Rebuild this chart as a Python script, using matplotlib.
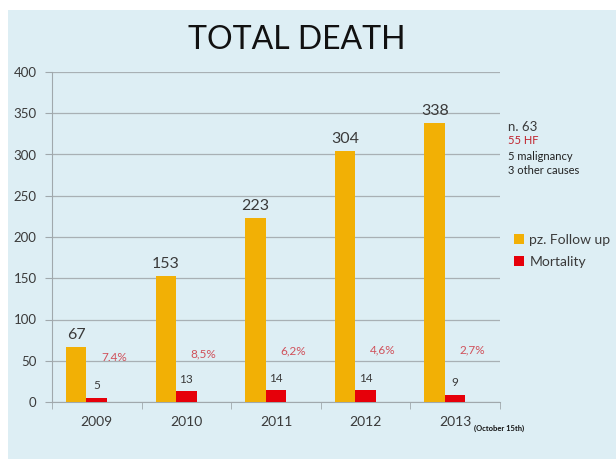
import matplotlib
matplotlib.use("Agg")
import matplotlib.pyplot as plt
import numpy as np
from matplotlib.patches import Rectangle

years = ["2009", "2010", "2011", "2012", "2013"]
followup = [67, 153, 223, 304, 338]
mortality = [5, 13, 14, 14, 9]
pct_labels = ["7.4%", "8,5%", "6,2%", "4,6%", "2,7%"]
side_notes = ["n. 63", "55 HF", "5 malignancy", "3 other causes"]
yticks = [0, 50, 100, 150, 200, 250, 300, 350, 400]

ORANGE = "#f2b005"
RED = "#e6000a"
BG = "#ddeef4"
PCT = "#d0505a"
TXT = "#3a3a3a"

plt.rcParams['font.family'] = ['Lato', 'DejaVu Sans']

fig = plt.figure(figsize=(6.16, 4.59), dpi=100)
fig.patch.set_facecolor("white")
fig.patches.append(Rectangle((8/616, 0), 1, 1 - 10/459, transform=fig.transFigure,
                             facecolor=BG, edgecolor="none", zorder=-10))

ax = fig.add_axes([52/616, 57/459, 448/616, 330/459])
ax.set_facecolor("none")

x = np.arange(len(years))
w = 0.228
off = -0.115
b1 = ax.bar(x + off - w/2, followup, w, color=ORANGE, label="pz. Follow up", zorder=3)
b2 = ax.bar(x + off + w/2, mortality, w, color=RED, label="Mortality", zorder=3)

for xi, v in zip(x, followup):
    ax.text(xi + off - w/2, v + 6, str(v), ha="center", va="bottom", fontsize=11.5, color=TXT)
for xi, v in zip(x, mortality):
    ax.text(xi + off + w/2, v + 8, str(v), ha="center", va="bottom", fontsize=8.5, color=TXT)

pct_y = [54, 58, 62, 63, 63]
for xi, t, yy in zip(x, pct_labels, pct_y):
    ax.text(xi + 0.19, yy, t, ha="center", va="center", fontsize=8.5, color=PCT)

ax.set_xlim(-0.5, len(years) - 0.5)
ax.set_ylim(0, 400)
ax.set_yticks(yticks)
ax.set_xticks(x)
ax.set_xticklabels(years, fontsize=10, color=TXT)
ax.set_xticks(np.arange(-0.5, len(years)), minor=True)
ax.tick_params(axis="x", which="major", length=0, pad=10)
ax.tick_params(axis="x", which="minor", length=5, color="#a0a8ac", direction="out")
ax.tick_params(axis="y", length=5, color="#a0a8ac", labelsize=9.5, labelcolor=TXT, pad=6)
ax.grid(axis="y", color="#a8b0b4", linewidth=0.9, zorder=0)
for s in ["top", "right"]:
    ax.spines[s].set_visible(False)
for s in ["left", "bottom"]:
    ax.spines[s].set_color("#a0a8ac")

fig.text(297/616, 1 - 40/459, "TOTAL DEATH", ha="center", va="center", fontsize=23, color="#111111")

note_y = [127, 141, 156, 170]
note_c = [TXT, "#c0202a", "#222222", "#222222"]
note_fs = [9.5, 8, 8, 8]
for t, yy, c, fs in zip(side_notes, note_y, note_c, note_fs):
    fig.text(508/616, 1 - yy/459, t, ha="left", va="center", fontsize=fs, color=c)

fig.text(474/616, 1 - 428/459, "(October 15th)", ha="left", va="center", fontsize=5.5,
         fontweight="bold", color="#111111")

leg = ax.legend(loc="upper left", bbox_to_anchor=(514/616, 1 - 234/459),
                bbox_transform=fig.transFigure, frameon=False,
                fontsize=10, handlelength=0.7, handleheight=0.7, handletextpad=0.4,
                labelspacing=0.7, borderaxespad=0, borderpad=0, labelcolor=TXT)

fig.savefig("out.png", dpi=100)
